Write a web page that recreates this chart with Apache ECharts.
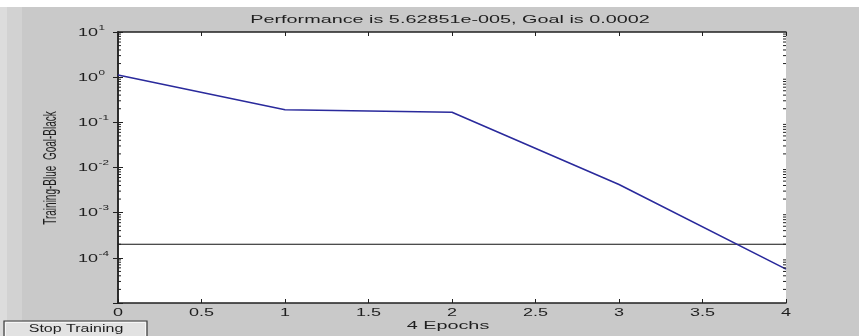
<!DOCTYPE html>
<html>
<head>
<meta charset="utf-8">
<style>
  html, body { margin: 0; padding: 0; background: #c9c9c9; }
  #chart { width: 859px; height: 336px; }
</style>
<script src="https://cdn.jsdelivr.net/npm/echarts@6/dist/echarts.min.js"></script>
</head>
<body>
<div id="chart"></div>
<script>
// Training record: performance (mse) per epoch, log scale
const epochs = [0, 1, 2, 3, 4];
const performance = [1.12, 0.19, 0.167, 0.0042, 5.62851e-5];
const goalValue = 0.0002;
const titleText = 'Performance is 5.62851e-005, Goal is 0.0002';
const xAxisName = '4 Epochs';
const yAxisName = 'Training-Blue  Goal-Black';
const buttonText = 'Stop Training';
const xTickValues = [0, 0.5, 1, 1.5, 2, 2.5, 3, 3.5, 4];
const xTickLabels = ['0', '0.5', '1', '1.5', '2', '2.5', '3', '3.5', '4'];
const yTickExponents = [1, 0, -1, -2, -3, -4];
const yMin = 1e-5;
const yMax = 10;
// minor ticks of the log axis: 2..9 times each decade
const minorMultipliers = [2, 3, 4, 5, 6, 7, 8, 9];
const decades = [-5, -4, -3, -2, -1, 0];

// the figure's text is drawn wide, as on the original window
const TEXT_STRETCH = 1.8;
const FONT = 'Liberation Sans';
const textColor = '#1e1e1e';
const axisColor = '#202020';

const chart = echarts.init(document.getElementById('chart'), null, { renderer: 'canvas' });

const minorTickData = [];
decades.forEach(d => minorMultipliers.forEach(m => minorTickData.push([0, m * Math.pow(10, d)])));

const option = {
  backgroundColor: '#c9c9c9',
  animation: false,
  grid: { left: 118, right: 73, top: 32, bottom: 33, show: true, backgroundColor: '#ffffff', borderWidth: 0 },
  xAxis: [{
    type: 'value', min: 0, max: 4, interval: 0.5,
    axisLine: { show: true, lineStyle: { color: axisColor, width: 1.5 } },
    axisTick: { show: true, inside: true, length: 4, lineStyle: { color: axisColor } },
    axisLabel: { show: false },
    splitLine: { show: false }
  }, {
    type: 'value', min: 0, max: 4, interval: 0.5, position: 'top',
    axisLine: { show: true, lineStyle: { color: axisColor, width: 1.5 } },
    axisTick: { show: true, inside: true, length: 4, lineStyle: { color: axisColor } },
    axisLabel: { show: false },
    splitLine: { show: false }
  }],
  yAxis: [{
    type: 'log', logBase: 10, min: yMin, max: yMax,
    axisLine: { show: true, lineStyle: { color: axisColor, width: 1.5 } },
    axisTick: { show: true, inside: true, length: 5, lineStyle: { color: axisColor } },
    axisLabel: { show: false },
    splitLine: { show: false }
  }, {
    type: 'log', logBase: 10, min: yMin, max: yMax, position: 'right',
    axisLine: { show: true, lineStyle: { color: axisColor, width: 1.5 } },
    axisTick: { show: true, inside: true, length: 5, lineStyle: { color: axisColor } },
    axisLabel: { show: false },
    splitLine: { show: false }
  }],
  series: [{
    name: 'Goal', type: 'line',
    data: [[0, goalValue], [4, goalValue]],
    showSymbol: false, lineStyle: { color: '#111111', width: 1.2 }, z: 3
  }, {
    name: 'Training', type: 'line',
    data: epochs.map((e, i) => [e, performance[i]]),
    showSymbol: false, lineStyle: { color: '#2a2a9c', width: 1.6 }, z: 4
  }, {
    // minor ticks on the left and right edges of the log axis
    name: 'minorTicks', type: 'custom',
    data: minorTickData, clip: false, silent: true, z: 5,
    renderItem: function (params, api) {
      const p0 = api.coord([0, api.value(1)]);
      const p1 = api.coord([4, api.value(1)]);
      return {
        type: 'group',
        children: [
          { type: 'line', shape: { x1: p0[0], y1: p0[1], x2: p0[0] + 3, y2: p0[1] }, style: { stroke: axisColor, lineWidth: 1 } },
          { type: 'line', shape: { x1: p1[0], y1: p1[1], x2: p1[0] - 3, y2: p1[1] }, style: { stroke: axisColor, lineWidth: 1 } }
        ]
      };
    }
  }, {
    // y tick labels: 10 with a raised exponent
    name: 'yLabels', type: 'custom',
    data: yTickExponents.map(e => [0, Math.pow(10, e), e]), clip: false, silent: true,
    renderItem: function (params, api) {
      const p = api.coord([0, api.value(1)]);
      const e = yTickExponents[params.dataIndex];
      return {
        type: 'group', x: p[0] - 20, y: p[1] + 1, scaleX: TEXT_STRETCH,
        children: [
          { type: 'text', style: { x: 0, y: 0, text: '10', textAlign: 'right', textVerticalAlign: 'middle', fontFamily: FONT, fontSize: 10, fill: textColor } },
          { type: 'text', style: { x: 0.3, y: -5, text: String(e), textAlign: 'left', textVerticalAlign: 'middle', fontFamily: FONT, fontSize: 6.5, fill: textColor } }
        ]
      };
    }
  }, {
    // x tick labels
    name: 'xLabels', type: 'custom',
    data: xTickValues.map(v => [v, yMin]), clip: false, silent: true,
    renderItem: function (params, api) {
      const p = api.coord([api.value(0), yMin]);
      return {
        type: 'text', x: p[0], y: p[1] + 10, scaleX: TEXT_STRETCH,
        style: { x: 0, y: 0, text: xTickLabels[params.dataIndex], textAlign: 'center', textVerticalAlign: 'middle', fontFamily: FONT, fontSize: 10, fill: textColor }
      };
    }
  }],
  graphic: [
    { type: 'rect', left: 0, top: 0, shape: { width: 859, height: 7 }, style: { fill: '#ffffff' }, z: -1 },
    { type: 'rect', left: 0, top: 7, shape: { width: 7, height: 329 }, style: { fill: '#dcdcdc' }, z: -1 },
    { type: 'rect', left: 7, top: 7, shape: { width: 15, height: 329 }, style: { fill: '#d2d2d2' }, z: -1 },
    { type: 'text', x: 450, y: 20, scaleX: TEXT_STRETCH, style: { x: 0, y: 0, text: titleText, textAlign: 'center', textVerticalAlign: 'middle', fontFamily: FONT, fontSize: 11, fill: textColor } },
    { type: 'text', x: 448, y: 326, scaleX: TEXT_STRETCH, style: { x: 0, y: 0, text: xAxisName, textAlign: 'center', textVerticalAlign: 'middle', fontFamily: FONT, fontSize: 11, fill: textColor } },
    { type: 'text', x: 51, y: 168, rotation: Math.PI / 2, scaleY: TEXT_STRETCH, style: { x: 0, y: 0, text: yAxisName, textAlign: 'center', textVerticalAlign: 'middle', fontFamily: FONT, fontSize: 10, fill: textColor } },
    { type: 'rect', x: 4, y: 321, shape: { width: 143, height: 18 }, style: { fill: '#e2e2e2', stroke: '#3a3a3a', lineWidth: 1.2 } },
    { type: 'rect', x: 5.5, y: 322.5, shape: { width: 140, height: 15 }, style: { fill: 'none', stroke: '#f6f6f6', lineWidth: 1 } },
    { type: 'text', x: 76, y: 329, scaleX: 1.6, style: { x: 0, y: 0, text: buttonText, textAlign: 'center', textVerticalAlign: 'middle', fontFamily: FONT, fontSize: 10, fill: '#1e1e1e' } }
  ]
};

chart.setOption(option);
</script>
</body>
</html>
